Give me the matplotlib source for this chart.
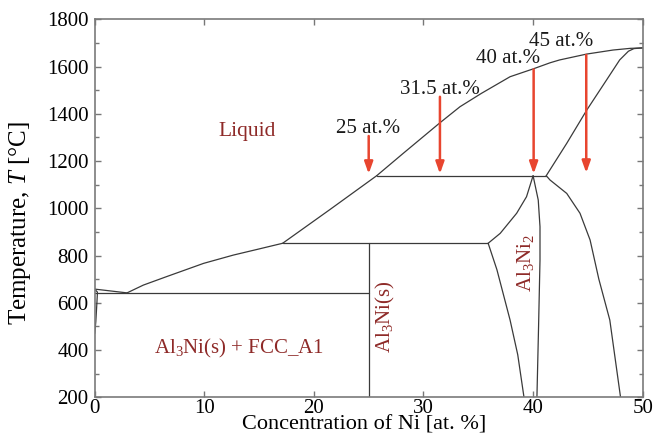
import matplotlib
matplotlib.use("Agg")
import matplotlib.pyplot as plt
from matplotlib.ticker import MultipleLocator

plt.rcParams['font.family'] = ['Liberation Serif', 'DejaVu Serif']
plt.rcParams['mathtext.fontset'] = 'custom'
plt.rcParams['mathtext.rm'] = 'Liberation Serif'
plt.rcParams['mathtext.it'] = 'Liberation Serif:italic'

# ---- phase boundaries (x = at.% Ni, y = T in degC) ----
liq_al_x = [0.0, 2.95]
liq_al_t = [658, 642]
solvus_fcc_x = [0.0, 0.25, 0.2, 0.1, 0.0]
solvus_fcc_t = [658, 645, 600, 520, 470]
eutectic_x = [0.0, 25.05]
eutectic_t = [642, 642]
liq_a_x = [2.95, 4.44, 6.57, 9.94, 12.65, 15.0, 17.15]
liq_a_t = [642, 675, 711, 767, 802, 828, 852]
liq_b_x = [17.15, 21.47, 25.73]
liq_b_t = [852, 995, 1138]
liq_c_x = [25.73, 28.16, 31.5, 33.33, 35.3, 37.9, 40.0, 41.55, 42.42,
           44.9, 47.3, 48.85, 50.0]
liq_c_t = [1138, 1233, 1362, 1430, 1487, 1557, 1590, 1616, 1628,
           1653, 1670, 1677, 1679]
alni_liq_x = [41.2, 43.07, 44.9, 46.7, 47.9, 48.7, 49.2, 50.0]
alni_liq_t = [1138, 1275, 1416, 1543, 1628, 1665, 1676, 1679]
perit_high_x = [25.73, 41.2]
perit_high_t = [1138, 1138]
perit_low_x = [17.15, 35.9]
perit_low_t = [852, 852]
al3ni_x = [25.05, 25.05]
al3ni_t = [200, 852]
al3ni2_left_up_x = [35.9, 37.0, 38.5, 39.4, 40.0]
al3ni2_left_up_t = [852, 894, 979, 1049, 1138]
al3ni2_left_low_x = [35.9, 36.7, 37.9, 38.6, 39.17]
al3ni2_left_low_t = [852, 740, 527, 380, 200]
al3ni2_right_x = [40.0, 40.47, 40.63, 40.63, 40.5, 40.35]
al3ni2_right_t = [1138, 1035, 922, 781, 500, 200]
alni_left_x = [41.2, 41.54, 43.07, 44.28, 45.2, 46.0, 47.0, 47.98]
alni_left_t = [1138, 1120, 1063, 979, 866, 700, 527, 200]

# ---- annotations ----
arrow_x = [25.0, 31.5, 40.05, 44.85]
arrow_top = [1306, 1472, 1588, 1649]
arrow_tip = [1146, 1146, 1146, 1150]
arrow_labels = ["25 at.%", "31.5 at.%", "40 at.%", "45 at.%"]
label_x = [24.95, 31.5, 37.7, 42.6]
label_t = [1338, 1504, 1635, 1705]

line_color = '#3a3a3a'
red = '#e8452f'
txt_red = '#8e2a28'

fig = plt.figure(figsize=(6.55, 4.46), dpi=100)
ax = fig.add_axes([0.1446, 0.1092, 0.8366, 0.8475])

curves = [
    (liq_al_x, liq_al_t), (solvus_fcc_x, solvus_fcc_t), (eutectic_x, eutectic_t),
    (liq_a_x, liq_a_t), (liq_b_x, liq_b_t), (liq_c_x, liq_c_t),
    (alni_liq_x, alni_liq_t), (perit_high_x, perit_high_t), (perit_low_x, perit_low_t),
    (al3ni_x, al3ni_t), (al3ni2_left_up_x, al3ni2_left_up_t),
    (al3ni2_left_low_x, al3ni2_left_low_t), (al3ni2_right_x, al3ni2_right_t),
    (alni_left_x, alni_left_t),
]
for xs, ts in curves:
    ax.plot(xs, ts, color=line_color, lw=0.9, solid_joinstyle='round',
            solid_capstyle='round')

for x, top, tip in zip(arrow_x, arrow_top, arrow_tip):
    ax.annotate('', xy=(x, tip), xytext=(x, top),
                arrowprops=dict(arrowstyle='-|>,head_length=0.7,head_width=0.25',
                                color=red, lw=1.8, shrinkA=0, shrinkB=0))
for lx, lt, s in zip(label_x, label_t, arrow_labels):
    ax.text(lx, lt, s, ha='center', va='center', fontsize=15, color='#1a1a1a')

ax.text(13.9, 1324, 'Liquid', ha='center', va='center', fontsize=15.5, color=txt_red)
ax.text(13.2, 407, r'Al$_3$Ni(s) + FCC_A1', ha='center', va='center',
        fontsize=15, color=txt_red)
ax.text(26.55, 541, r'Al$_3$Ni(s)', ha='center', va='center', fontsize=15,
        color=txt_red, rotation=90)
ax.text(39.3, 770, r'Al$_3$Ni$_2$', ha='center', va='center', fontsize=15,
        color=txt_red, rotation=90)

ax.set_xlim(0, 50)
ax.set_ylim(200, 1800)
ax.xaxis.set_major_locator(MultipleLocator(10))
ax.yaxis.set_major_locator(MultipleLocator(200))
ax.yaxis.set_minor_locator(MultipleLocator(100))
ax.tick_params(which='both', direction='in', top=True, right=True,
               labelsize=15, color='#777777', width=1.0)
ax.tick_params(which='major', length=4.5)
ax.tick_params(which='minor', length=3)
ax.tick_params(axis='x', which='major', pad=1)
ax.tick_params(axis='y', which='major', pad=4.5)
for sp in ax.spines.values():
    sp.set_color('#7a7a7a')
    sp.set_linewidth(1.2)

ax.set_xlabel('Concentration of Ni [at. %]', fontsize=16)
ax.set_ylabel(r'Temperature, $T$ [°C]', fontsize=18)
ax.xaxis.set_label_coords(0.4914, -0.047)
ax.yaxis.set_label_coords(-0.1126, 0.461)

fig.savefig('out.png', dpi=100)
